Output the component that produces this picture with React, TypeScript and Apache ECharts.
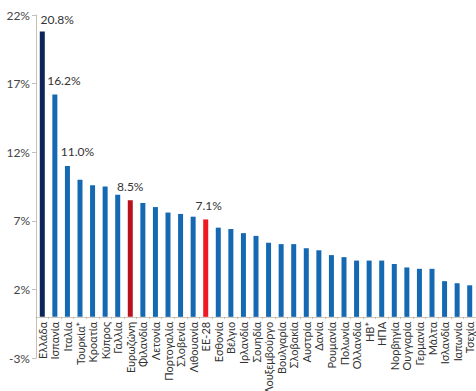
import React, { useEffect, useRef } from "react";
import * as echarts from "echarts";

const categories = [
  "Ελλάδα", "Ισπανία", "Ιταλία", "Τουρκία*", "Κροατία", "Κύπρος", "Γαλλία", "Ευρωζώνη",
  "Φιλανδία", "Λετονία", "Πορτογαλία", "Σλοβενία", "Λιθουανία", "ΕΕ-28", "Εσθονία", "Βέλγιο",
  "Ιρλανδία", "Σουηδία", "Λουξεμβούργο", "Βουλγαρία", "Σλοβακία", "Αυστρία", "Δανία", "Ρουμανία",
  "Πολωνία", "Ολλανδία", "ΗΒ*", "ΗΠΑ", "Νορβηγία", "Ουγγαρία", "Γερμανία", "Μάλτα",
  "Ισλανδία", "Ιαπωνία", "Τσεχία",
];

const values = [
  20.8, 16.2, 11.0, 10.0, 9.6, 9.5, 8.9, 8.5,
  8.3, 8.0, 7.6, 7.5, 7.3, 7.1, 6.5, 6.4,
  6.1, 5.9, 5.4, 5.3, 5.3, 5.0, 4.85, 4.5,
  4.35, 4.1, 4.1, 4.1, 3.85, 3.6, 3.5, 3.5,
  2.6, 2.45, 2.3,
];

const yMin = -3;
const yMax = 22;
const yStep = 5;

const labelled = ["Ελλάδα", "Ισπανία", "Ιταλία", "Ευρωζώνη", "ΕΕ-28"];
const labelOffsets: Record<string, number[]> = {
  "Ελλάδα": [15, -1],
  "Ισπανία": [9, -3],
  "Ιταλία": [10, -3],
  "Ευρωζώνη": [0, -3],
  "ΕΕ-28": [3, -3],
};

const FONT = "Lato, 'Open Sans', sans-serif";

const colorFor = (name: string) => {
  if (name === "Ελλάδα") return "#0b2459";
  if (name === "Ευρωζώνη") return "#b8121c";
  if (name === "ΕΕ-28") return "#ec1a22";
  return "#1469b2";
};

export default function App() {
  const ref = useRef<HTMLDivElement>(null);
  useEffect(() => {
    if (!ref.current) return;
    const chart = echarts.init(ref.current, null, { renderer: "svg" });
    const gridTop = 15;
    const gridBottom = 33;
    const plotH = 391 - gridTop - gridBottom;
    const zeroFromBottom = (plotH * (0 - yMin)) / (yMax - yMin);
    const data = values.map((v, i) => {
      const name = categories[i];
      const item: any = { value: v, itemStyle: { color: colorFor(name) } };
      if (labelled.includes(name)) {
        item.label = {
          show: true,
          position: "top",
          formatter: (p: any) => Number(p.value).toFixed(1) + "%",
          offset: labelOffsets[name],
          fontSize: 12,
          color: "#333",
          fontFamily: FONT,
        };
      }
      return item;
    });
    chart.setOption({
      animation: false,
      grid: { left: 36, right: 0, top: gridTop, bottom: gridBottom, containLabel: false, outerBoundsMode: "none" },
      xAxis: {
        type: "category",
        data: categories,
        offset: -zeroFromBottom,
        axisLine: { onZero: false, lineStyle: { color: "#cfc7be", width: 1 } },
        axisTick: { show: true, length: 2, lineStyle: { color: "#bdb5ac" } },
        axisLabel: {
          rotate: 90,
          interval: 0,
          fontSize: 11,
          color: "#333",
          margin: 5,
          fontFamily: FONT,
        },
      },
      yAxis: {
        type: "value",
        min: yMin,
        max: yMax,
        interval: yStep,
        splitLine: { show: false },
        axisLine: { show: true, lineStyle: { color: "#c8beb4", width: 1 } },
        axisTick: { show: true, length: 4, lineStyle: { color: "#c8beb4" } },
        axisLabel: {
          formatter: (v: number) => v + "%",
          fontSize: 12,
          color: "#444",
          margin: 6,
          fontFamily: FONT,
        },
      },
      series: [
        {
          type: "bar",
          data,
          barWidth: 5,
        },
      ],
    });
    return () => chart.dispose();
  }, []);
  return (
    <div
      ref={ref}
      style={{ position: "absolute", left: 0, top: 0, width: 476, height: 391, overflow: "hidden" }}
    />
  );
}
